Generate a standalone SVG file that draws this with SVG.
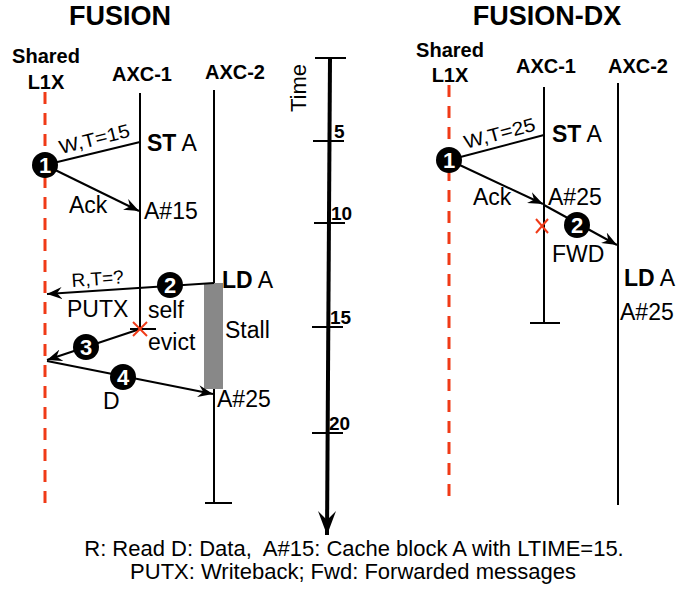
<svg xmlns="http://www.w3.org/2000/svg" width="681" height="590" viewBox="0 0 681 590">
<style>
text{font-family:"Liberation Sans",Arial,sans-serif;fill:#000}
.title{font-size:27px;font-weight:bold}
.hdr{font-size:20px;font-weight:bold}
.lbl{font-size:23px}
.sm{font-size:19px}
.tick{font-size:19px;font-weight:bold}
.cap{font-size:22px}
.life{stroke:#000;stroke-width:2;fill:none}
.l1x{stroke:#f03a17;stroke-width:3;stroke-dasharray:12,9;fill:none}
.msg{stroke:#000;stroke-width:2;fill:none}
.num{font-size:22px;font-weight:bold;fill:#fff;text-anchor:middle}
.x{stroke:#f03a17;stroke-width:2}
</style>
<defs>
<marker id="ah" markerWidth="16" markerHeight="12" refX="15" refY="6" orient="auto" markerUnits="userSpaceOnUse">
<path d="M0,0 L15,6 L0,12 L5,6 Z" fill="#000"/>
</marker>
<marker id="tah" markerWidth="18" markerHeight="26" refX="9" refY="24" orient="0" markerUnits="userSpaceOnUse">
<path d="M0,0 L9,24 L18,0 L9,9 Z" fill="#000"/>
</marker>
</defs>

<!-- LEFT PANEL: FUSION -->
<g id="title-fusion"><text class="title" x="120" y="25" text-anchor="middle">FUSION</text></g>
<g id="l1x-left">
<text class="hdr" x="46" y="63" text-anchor="middle">Shared</text>
<text class="hdr" x="46" y="89" text-anchor="middle">L1X</text>
<line class="l1x" x1="45" y1="92" x2="45" y2="505"/>
</g>
<g id="axc1-left">
<text class="hdr" x="142" y="81" text-anchor="middle">AXC-1</text>
<line class="life" x1="140" y1="93" x2="140" y2="329"/>
<line class="life" x1="130" y1="329" x2="156" y2="329"/>
</g>
<g id="axc2-left">
<text class="hdr" x="235" y="79" text-anchor="middle">AXC-2</text>
<line class="life" x1="214" y1="90" x2="214" y2="503"/>
<line class="life" x1="205" y1="503" x2="232" y2="503"/>
</g>
<g id="stall-left">
<rect x="204" y="283" width="19" height="106" fill="#888"/>
<text class="lbl" x="225" y="338">Stall</text>
</g>

<g id="connectors-left">
<line class="msg" x1="45" y1="165" x2="140" y2="142"/>
<line class="msg" x1="45" y1="165" x2="139" y2="211" marker-end="url(#ah)"/>
<line class="msg" x1="214" y1="283" x2="47" y2="294" marker-end="url(#ah)"/>
<line class="msg" x1="140" y1="329" x2="47" y2="360" marker-end="url(#ah)"/>
<line class="msg" x1="47" y1="361" x2="213" y2="394" marker-end="url(#ah)"/>
</g>

<g id="labels-left">
<text class="sm" transform="translate(61,154) rotate(-14)" textLength="72" lengthAdjust="spacingAndGlyphs">W,T=15</text>
<text class="lbl" x="147" y="151"><tspan font-weight="bold">ST</tspan> A</text>
<text class="lbl" x="69" y="213">Ack</text>
<text class="lbl" x="144" y="219">A#15</text>
<text class="sm" transform="translate(72,287) rotate(-4)">R,T=?</text>
<text class="lbl" x="222" y="288"><tspan font-weight="bold">LD</tspan> A</text>
<text class="lbl" x="67" y="317">PUTX</text>
<text class="lbl" x="148" y="318">self</text>
<text class="lbl" x="148" y="350">evict</text>
<text class="lbl" x="103" y="409">D</text>
<text class="lbl" x="217" y="407">A#25</text>
<g class="x"><line x1="133" y1="322" x2="147" y2="336"/><line x1="147" y1="322" x2="133" y2="336"/></g>
</g>

<g id="n1-left"><circle cx="45" cy="165" r="13"/><text class="num" x="45" y="173">1</text></g>
<g id="n2-left"><circle cx="170" cy="285" r="13"/><text class="num" x="170" y="293">2</text></g>
<g id="n3-left"><circle cx="86" cy="347" r="13"/><text class="num" x="86" y="355">3</text></g>
<g id="n4-left"><circle cx="123" cy="377" r="13"/><text class="num" x="123" y="385">4</text></g>

<!-- TIME AXIS -->
<g id="time-axis">
<line x1="330" y1="58" x2="327" y2="535" stroke="#000" stroke-width="4" marker-end="url(#tah)"/>
<line class="life" x1="315" y1="58" x2="346" y2="58"/>
<line class="life" x1="313" y1="141" x2="344" y2="141"/>
<line class="life" x1="314" y1="223" x2="345" y2="223"/>
<line class="life" x1="312" y1="327" x2="343" y2="327"/>
<line class="life" x1="312" y1="433" x2="343" y2="433"/>
<text class="tick" x="334" y="138">5</text>
<text class="tick" x="331" y="220">10</text>
<text class="tick" x="330" y="324">15</text>
<text class="tick" x="329" y="430">20</text>
<text font-size="22" transform="translate(306,88) rotate(-90)" text-anchor="middle">Time</text>
</g>

<!-- RIGHT PANEL: FUSION-DX -->
<g id="title-fusiondx"><text class="title" x="547" y="25" text-anchor="middle">FUSION-DX</text></g>
<g id="l1x-right">
<text class="hdr" x="450" y="57" text-anchor="middle">Shared</text>
<text class="hdr" x="450" y="82" text-anchor="middle">L1X</text>
<line class="l1x" x1="449" y1="85" x2="449" y2="505"/>
</g>
<g id="axc1-right">
<text class="hdr" x="546" y="73" text-anchor="middle">AXC-1</text>
<line class="life" x1="544" y1="87" x2="544" y2="323"/>
<line class="life" x1="530" y1="323" x2="560" y2="323"/>
</g>
<g id="axc2-right">
<text class="hdr" x="638" y="73" text-anchor="middle">AXC-2</text>
<line class="life" x1="618" y1="83" x2="618" y2="505"/>
</g>

<g id="connectors-right">
<line class="msg" x1="449" y1="160" x2="544" y2="135"/>
<line class="msg" x1="449" y1="160" x2="543" y2="204" marker-end="url(#ah)"/>
<line class="msg" x1="544" y1="205" x2="617" y2="245" marker-end="url(#ah)"/>
</g>

<g id="labels-right">
<text class="sm" transform="translate(466,149) rotate(-15)" textLength="73" lengthAdjust="spacingAndGlyphs">W,T=25</text>
<text class="lbl" x="552" y="142"><tspan font-weight="bold">ST</tspan> A</text>
<text class="lbl" x="473" y="205">Ack</text>
<text class="lbl" x="548" y="205">A#25</text>
<text class="lbl" x="552" y="262">FWD</text>
<text class="lbl" x="624" y="286"><tspan font-weight="bold">LD</tspan> A</text>
<text class="lbl" x="620" y="320">A#25</text>
<g class="x"><line x1="536" y1="219" x2="548" y2="233"/><line x1="548" y1="219" x2="536" y2="233"/></g>
</g>

<g id="n1-right"><circle cx="449" cy="160" r="13"/><text class="num" x="449" y="168">1</text></g>
<g id="n2-right"><circle cx="577" cy="225" r="13"/><text class="num" x="577" y="233">2</text></g>

<!-- CAPTION -->
<g id="caption">
<text class="cap" x="354" y="556" text-anchor="middle">R: Read D: Data,&#160; A#15: Cache block A with LTIME=15.</text>
<text class="cap" x="353" y="579" text-anchor="middle">PUTX: Writeback; Fwd: Forwarded messages</text>
</g>
</svg>
